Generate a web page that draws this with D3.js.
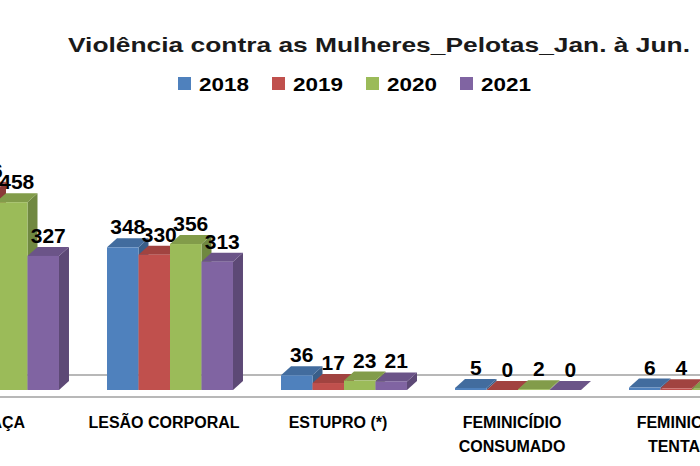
<!DOCTYPE html>
<html><head><meta charset="utf-8">
<script src="https://cdn.jsdelivr.net/npm/d3@7/dist/d3.min.js"></script>
<style>body{margin:0;background:#fff}</style></head>
<body><svg id="c" width="700" height="466"></svg>
<script>
const categories = ["AMEAÇA", "LESÃO CORPORAL", "ESTUPRO (*)", "FEMINICÍDIO CONSUMADO", "FEMINICÍDIO TENTADO"];
const catLines = [["AMEAÇA"], ["LESÃO CORPORAL"], ["ESTUPRO (*)"], ["FEMINICÍDIO", "CONSUMADO"], ["FEMINICÍDIO", "TENTADO"]];
const years = ["2018", "2019", "2020", "2021"];
const v2018 = [470, 348, 36, 5, 6];
const v2019 = [486, 330, 17, 0, 4];
const v2020 = [458, 356, 23, 2, 3];
const v2021 = [327, 313, 21, 0, 2];
const series = [v2018, v2019, v2020, v2021];
const colors = ["#4f81bd", "#c0504d", "#9bbb59", "#8064a2"];

const svg = d3.select("#c");
const font = "'Liberation Sans', Arial, sans-serif";
const dx = 10, dy = 9;
const x = d3.scaleBand().domain(categories).range([-91, 779]).paddingInner(0.276).paddingOuter(0.138);
const xs = d3.scaleBand().domain(years).range([0, x.bandwidth()]);
const y = d3.scaleLinear().domain([0, 500]).range([390, 185]);

svg.append("text").attr("x", 68).attr("y", 52).attr("textLength", 622).attr("lengthAdjust", "spacingAndGlyphs")
  .attr("font-family", font).attr("font-weight", "bold").attr("font-size", 21).attr("fill", "#1a1a1a").text("Violência contra as Mulheres_Pelotas_Jan. à Jun.");
const lg = svg.append("g");
years.forEach((yr, i) => {
  const lx = 178 + i * 94;
  lg.append("rect").attr("x", lx).attr("y", 77).attr("width", 13).attr("height", 13).attr("fill", colors[i]);
  lg.append("text").attr("x", lx + 21).attr("y", 91).attr("textLength", 50).attr("lengthAdjust", "spacingAndGlyphs")
    .attr("font-family", font).attr("font-weight", "bold").attr("font-size", 19).text(yr);
});

// floor
[375, 397].forEach(ly => svg.append("line").attr("x1", 0).attr("x2", 700).attr("y1", ly).attr("y2", ly).attr("stroke", "#a0a0a0").attr("stroke-width", 1.5));

const g = svg.append("g");
categories.forEach((c, ci) => {
  years.forEach((yr, si) => {
    const v = series[si][ci];
    const x0 = x(c) + xs(yr), w = xs.bandwidth();
    const top = y(v), bot = y(0);
    const col = d3.color(colors[si]);
    g.append("path").attr("d", `M${x0 + w},${top}L${x0 + w + dx},${top - dy}L${x0 + w + dx},${bot - dy}L${x0 + w},${bot}Z`).attr("fill", col.darker(0.9));
    g.append("path").attr("d", `M${x0},${top}L${x0 + dx},${top - dy}L${x0 + w + dx},${top - dy}L${x0 + w},${top}Z`).attr("fill", col.darker(0.5));
    if (bot - top > 0) g.append("rect").attr("x", x0).attr("y", top).attr("width", w).attr("height", bot - top).attr("fill", col);
    g.append("text").attr("x", x0 + w / 2 + dx / 2).attr("y", top - dy - 4).attr("text-anchor", "middle")
      .attr("font-family", font).attr("font-weight", "bold").attr("font-size", 21).text(v);
  });
  catLines[ci].forEach((t, li) => svg.append("text").attr("x", x(c) + x.bandwidth() / 2 - 6).attr("y", 428 + li * 24)
    .attr("text-anchor", "middle").attr("font-family", font).attr("font-weight", "bold").attr("font-size", 16).text(t));
});
</script></body></html>
